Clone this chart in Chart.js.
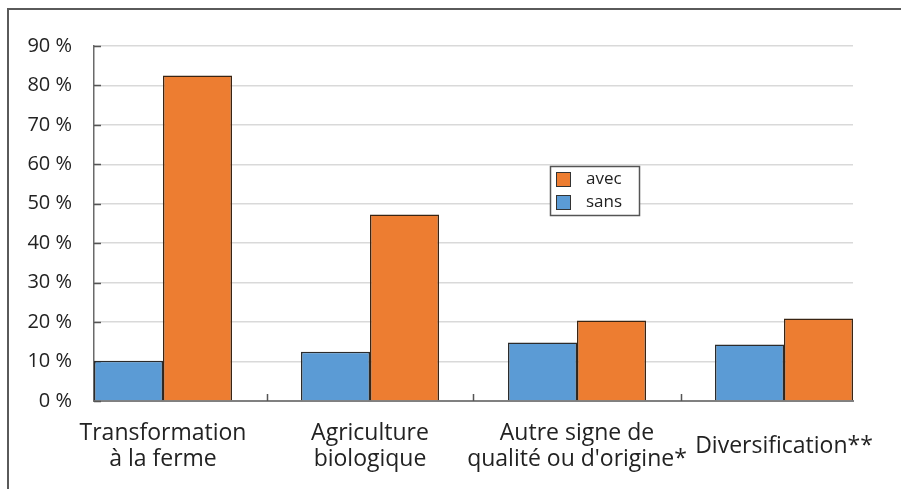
<!DOCTYPE html>
<html>
<head>
<meta charset="utf-8">
<script src="https://cdn.jsdelivr.net/npm/chart.js@4"></script>
<style>
  html, body { margin: 0; padding: 0; background: #fff; overflow: hidden; }
  body { width: 901px; height: 489px; position: relative; }
  .frame {
    position: absolute; left: 7px; top: 8px; width: 1000px; height: 600px;
    border: 2px solid #5a5a5a; box-sizing: border-box;
  }
  #wrap { position: absolute; left: 0; top: 0; width: 901px; height: 489px; }
</style>
</head>
<body>
<div class="frame"></div>
<div id="wrap"><canvas id="chart" width="901" height="489"></canvas></div>
<script>
/* Data */
const categories = [
  ['Transformation', 'à la ferme'],
  ['Agriculture', 'biologique'],
  ['Autre signe de', "qualité ou d'origine*"],
  'Diversification**'
];
const sansValues = [10.2, 12.5, 14.8, 14.3];
const avecValues = [82.5, 47.3, 20.4, 20.9];
const yTicks = [0, 10, 20, 30, 40, 50, 60, 70, 80, 90];

const BLUE = '#5b9bd5';
const ORANGE = '#ed7d31';
const TEXT = '#222';

Chart.defaults.font.family = "'Open Sans', sans-serif";
Chart.defaults.color = TEXT;

const toPoints = vals => vals.map((v, i) => ({ x: i, y: v }));

/* inside tick marks (y ticks + separators between groups) */
const innerTicks = {
  id: 'innerTicks',
  beforeDatasetsDraw(chart) {
    const { ctx, chartArea, scales: { x, y } } = chart;
    ctx.save();
    ctx.strokeStyle = '#555';
    ctx.lineWidth = 1.5;
    ctx.beginPath();
    y.ticks.forEach(t => {
      const py = Math.round(y.getPixelForValue(t.value)) + 0.5;
      ctx.moveTo(chartArea.left, py);
      ctx.lineTo(chartArea.left + 7, py);
    });
    for (let i = 0; i < categories.length - 1; i++) {
      const px = Math.round(x.getPixelForValue(i + 0.5)) + 0.5;
      ctx.moveTo(px, chartArea.bottom);
      ctx.lineTo(px, chartArea.bottom - 7);
    }
    ctx.stroke();
    ctx.restore();
  }
};

/* boxed legend inside the plot */
const boxLegend = {
  id: 'boxLegend',
  afterDraw(chart, args, opts) {
    const { ctx, chartArea } = chart;
    const left = chartArea.left + opts.dx, top = chartArea.top + opts.dy;
    const w = opts.width, h = opts.height;
    ctx.save();
    ctx.fillStyle = '#fff';
    ctx.fillRect(left, top, w, h);
    ctx.strokeStyle = '#555';
    ctx.lineWidth = 1.5;
    ctx.strokeRect(left + 0.5, top + 0.5, w, h);
    const items = chart.data.datasets.slice().reverse();
    ctx.font = "17px 'Open Sans', sans-serif";
    ctx.textBaseline = 'middle';
    items.forEach((ds, i) => {
      const cy = top + 13 + i * 23;
      ctx.fillStyle = ds.backgroundColor;
      ctx.fillRect(left + 6, cy - 7, 15, 15);
      ctx.strokeStyle = '#333';
      ctx.lineWidth = 1;
      ctx.strokeRect(left + 6.5, cy - 6.5, 14, 14);
      ctx.fillStyle = TEXT;
      ctx.fillText(ds.label, left + 36, cy);
    });
    ctx.restore();
  }
};

new Chart(document.getElementById('chart'), {
  type: 'bar',
  data: {
    datasets: [
      {
        label: 'sans',
        data: toPoints(sansValues),
        backgroundColor: BLUE,
        borderColor: '#2b2b2b',
        borderWidth: 1.5,
        categoryPercentage: 0.6667,
        barPercentage: 1
      },
      {
        label: 'avec',
        data: toPoints(avecValues),
        backgroundColor: ORANGE,
        borderColor: '#3a2412',
        borderWidth: 1.5,
        categoryPercentage: 0.6667,
        barPercentage: 1
      }
    ]
  },
  options: {
    responsive: false,
    animation: false,
    layout: { padding: { left: 0, top: 46, right: 48, bottom: 0 } },
    plugins: {
      legend: { display: false },
      tooltip: { enabled: false },
      boxLegend: { dx: 456, dy: 120, width: 89, height: 49 }
    },
    scales: {
      x: {
        type: 'linear',
        offset: false,
        min: -1 / 3,
        max: categories.length - 1 + 1 / 3,
        afterBuildTicks: s => { s.ticks = categories.map((c, i) => ({ value: i })); },
        afterFit: s => { s.height = 88; s.paddingLeft = 0; s.paddingRight = 0; },
        ticks: {
          callback: v => categories[v],
          font: { size: 23, lineHeight: 1.17 },
          color: TEXT,
          padding: 32,
          crossAlign: 'center',
          maxRotation: 0,
          autoSkip: false
        },
        grid: { drawOnChartArea: false, drawTicks: false, offset: false },
        border: { color: '#808080', width: 2 }
      },
      y: {
        min: 0,
        max: 90,
        afterBuildTicks: s => { s.ticks = yTicks.map(v => ({ value: v })); },
        afterFit: s => { s.width = 94; },
        ticks: {
          callback: v => v + ' %',
          font: { size: 20 },
          color: TEXT,
          padding: 22
        },
        grid: { color: '#d9d9d9', lineWidth: 1.5, drawTicks: false },
        border: { color: '#6a6a6a', width: 1.5 }
      }
    }
  },
  plugins: [innerTicks, boxLegend]
});
</script>
</body>
</html>
